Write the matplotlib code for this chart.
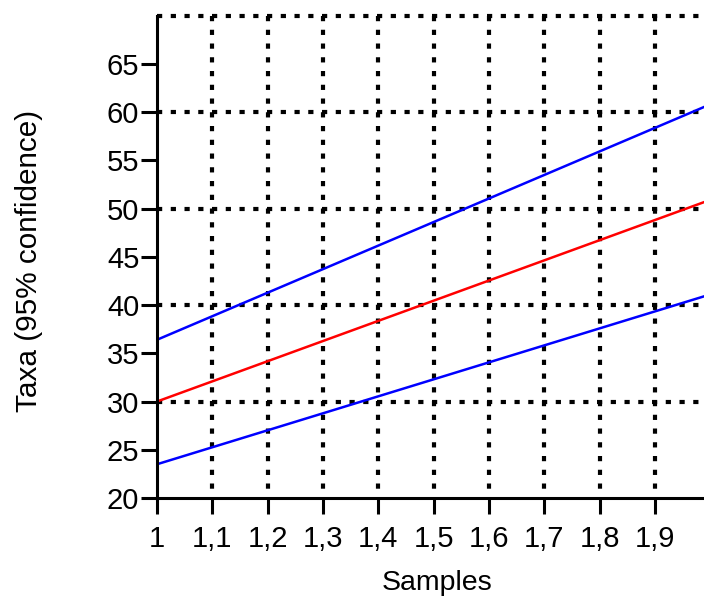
import numpy as np
import matplotlib
matplotlib.use("Agg")
import matplotlib.pyplot as plt
from matplotlib.ticker import FixedLocator, FuncFormatter

# Rarefaction estimate with 95% confidence band (linear between the two samples)
samples = [1.0, 2.0]
taxa_est = [30.0, 50.9]
taxa_upper = [36.4, 60.8]
taxa_lower = [23.5, 41.1]

x_ticks = [1.0, 1.1, 1.2, 1.3, 1.4, 1.5, 1.6, 1.7, 1.8, 1.9]
y_ticks = [20, 25, 30, 35, 40, 45, 50, 55, 60, 65]
x_grid = [1.1, 1.2, 1.3, 1.4, 1.5, 1.6, 1.7, 1.8, 1.9]
y_grid = [30, 40, 50, 60, 70]

plt.rcParams['font.family'] = ['Liberation Sans', 'DejaVu Sans']

fig = plt.figure(figsize=(7.04, 5.97), dpi=100)
ax = fig.add_axes([0.2230, 0.1658, 0.786, 0.8082])
ax.set_xlim(1.0, 2.0)
ax.set_ylim(20, 70)

grid_kw = dict(color='black', lw=3.0, linestyle=(0, (1.25, 2.05)),
               solid_capstyle='butt', dash_capstyle='butt', zorder=1, clip_on=False)
for gx in x_grid:
    ax.plot([gx, gx], [70, 20], **grid_kw)
for gy in y_grid:
    ax.plot([1.0, 2.0], [gy, gy], **grid_kw)

ax.plot(samples, taxa_upper, color='#0000ff', lw=1.8, zorder=3)
ax.plot(samples, taxa_est, color='#ff0000', lw=1.8, zorder=3)
ax.plot(samples, taxa_lower, color='#0000ff', lw=1.8, zorder=3)

for side in ('top', 'right'):
    ax.spines[side].set_visible(False)
for side in ('left', 'bottom'):
    ax.spines[side].set_linewidth(2.2)
    ax.spines[side].set_zorder(4)

ax.xaxis.set_major_locator(FixedLocator(x_ticks))
ax.yaxis.set_major_locator(FixedLocator(y_ticks))
ax.xaxis.set_major_formatter(FuncFormatter(lambda v, p: f"{v:g}".replace('.', ',')))
ax.yaxis.set_major_formatter(FuncFormatter(lambda v, p: f"{v:g}"))
ax.tick_params(axis='both', direction='out', length=11.5, width=2.2, labelsize=21,
               colors='black')
ax.tick_params(axis='y', pad=1.2)
ax.tick_params(axis='x', pad=7.6)

ax.set_xlabel('Samples', fontsize=20.5)
ax.set_ylabel('Taxa (95% confidence)', fontsize=21.4)
ax.xaxis.set_label_coords((437 - 157) / 553.3, -0.149)
ax.yaxis.set_label_coords(-(157 - 43) / 553.3, (498 - 260.5) / 482.5)

fig.savefig('out.png', dpi=100)
